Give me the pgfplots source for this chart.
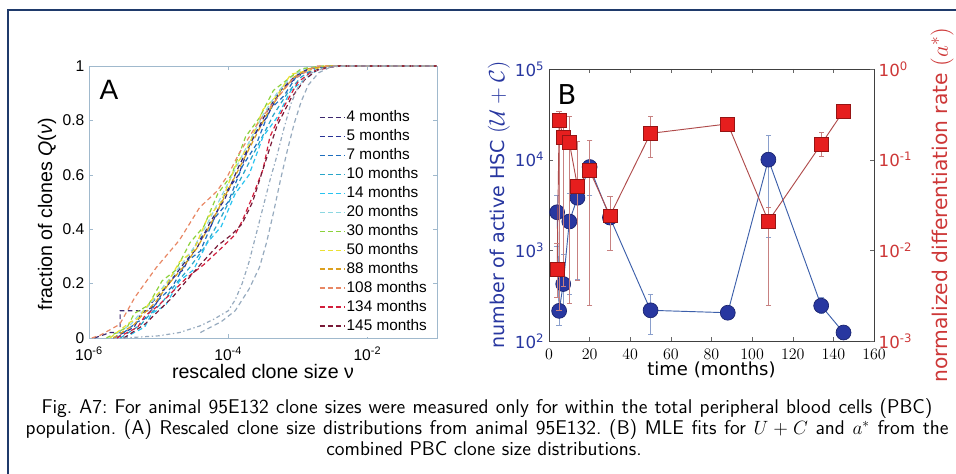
\documentclass[border=0pt]{standalone}
\usepackage{pgfplots}
\pgfplotsset{compat=1.18}
\usepackage{fontspec}
\setmainfont{Liberation Sans}
\newfontfamily\dvs{DejaVu Sans}
\definecolor{frameblue}{RGB}{31,58,107}
\definecolor{aaxis}{RGB}{160,185,205}
\definecolor{monA}{RGB}{60,40,110}
\definecolor{monB}{RGB}{40,50,150}
\definecolor{monC}{RGB}{30,110,190}
\definecolor{monD}{RGB}{40,165,200}
\definecolor{monE}{RGB}{40,195,240}
\definecolor{monF}{RGB}{140,215,225}
\definecolor{monG}{RGB}{140,210,60}
\definecolor{monH}{RGB}{235,225,50}
\definecolor{monI}{RGB}{220,160,30}
\definecolor{monJ}{RGB}{232,135,100}
\definecolor{monK}{RGB}{210,30,60}
\definecolor{monL}{RGB}{120,25,55}
\definecolor{cgray}{RGB}{150,170,190}
\definecolor{hscblue}{RGB}{40,55,160}
\definecolor{hscedge}{RGB}{25,35,110}
\definecolor{lineblue}{RGB}{60,95,170}
\definecolor{ared}{RGB}{230,30,30}
\definecolor{aredge}{RGB}{150,20,20}
\definecolor{linered}{RGB}{175,75,75}
\definecolor{labred}{RGB}{205,55,55}
\begin{document}
\frenchspacing
\begin{tikzpicture}
\useasboundingbox (0pt,0pt) rectangle (717pt,-355.5pt);
\draw[frameblue, line width=1.5pt] (6pt,-356pt) -- (6pt,-7.5pt) -- (718pt,-7.5pt);
% ---------------- Panel A ----------------
\begin{axis}[at={(66.75pt,-253.5pt)}, anchor=south west, scale only axis,
  width=261pt, height=204pt,
  xmode=log, log basis x=10, xmin=1e-6, xmax=1e-1, ymin=0, ymax=1,
  xtick={1e-6,1e-4,1e-2},
  xticklabels={10\textsuperscript{-6},10\textsuperscript{-4},10\textsuperscript{-2}},
  xminorticks=false,
  ytick={0,0.2,0.4,0.6,0.8,1}, yticklabels={0,0.2,0.4,0.6,0.8,1},
  axis line style={aaxis}, tick style={aaxis}, tick align=inside,
  major tick length=3pt,
  ticklabel style={font=\fontsize{11.7}{13}\selectfont, black},
  xticklabel style={yshift=-3pt},
  xlabel={rescaled clone size ν}, ylabel={fraction of clones \textit{Q}(\textit{ν})},
  label style={font=\fontsize{14.7}{16}\selectfont},
  xlabel style={yshift=4pt},
  ylabel style={at={(ticklabel cs:0.455)}, anchor=near ticklabel, yshift=-2pt},
  legend style={at={(rel axis cs:0.985,0.85)}, anchor=north east, draw=none, fill=white,
    font=\fontsize{11.5}{12}\selectfont, row sep=2.2pt,
    nodes={inner sep=0.5pt, text height=8.5pt, text depth=2.5pt}},
  legend cell align=left,
  legend image code/.code={\draw[#1, line width=1.1pt] (0pt,0pt) -- (19pt,0pt);},
  every axis plot/.append style={dash pattern=on 3.5pt off 2.5pt, line width=0.9pt}
]
\addplot[color=monA] coordinates {(1.2e-6,0) (2.0e-6,0.02) (2.8e-6,0.02) (2.8e-6,0.1) (8e-6,0.1) (8e-6,0.13) (1.413e-5,0.2) (2.239e-5,0.27) (3.548e-5,0.33) (5.623e-5,0.43) (8.913e-5,0.51) (1.413e-4,0.63) (2.239e-4,0.73) (3.548e-4,0.83) (5.623e-4,0.91) (8.913e-4,0.96) (1.413e-3,0.99) (2.818e-3,1) (1e-1,1)};
\addlegendentry{4 months}
\addplot[color=monB] coordinates {(2.239e-6,0) (4.467e-6,0.04) (5.623e-6,0.09) (8.913e-6,0.12) (1.413e-5,0.21) (2.239e-5,0.25) (3.548e-5,0.35) (5.623e-5,0.41) (8.913e-5,0.53) (1.413e-4,0.60) (2.239e-4,0.74) (3.548e-4,0.81) (5.623e-4,0.91) (8.913e-4,0.95) (1.413e-3,0.99) (2.818e-3,1) (1e-1,1)};
\addlegendentry{5 months}
\addplot[color=monC] coordinates {(2.512e-6,0) (5.012e-6,0.06) (6.310e-6,0.07) (1e-5,0.14) (1.585e-5,0.19) (2.512e-5,0.28) (3.981e-5,0.32) (6.310e-5,0.44) (1e-4,0.50) (1.585e-4,0.63) (2.512e-4,0.71) (3.981e-4,0.84) (6.310e-4,0.89) (1e-3,0.97) (1.585e-3,0.98) (3.162e-3,1) (1e-1,1)};
\addlegendentry{7 months}
\addplot[color=monD] coordinates {(2.818e-6,0) (5.623e-6,0.05) (7.079e-6,0.08) (1.122e-5,0.13) (1.778e-5,0.2) (2.818e-5,0.26) (4.467e-5,0.33) (7.079e-5,0.42) (1.122e-4,0.52) (1.778e-4,0.62) (2.818e-4,0.72) (4.467e-4,0.82) (7.079e-4,0.9) (1.122e-3,0.96) (1.778e-3,0.99) (3.548e-3,1) (1e-1,1)};
\addlegendentry{10 months}
\addplot[color=monE] coordinates {(3.162e-6,0) (6.310e-6,0.04) (7.943e-6,0.09) (1.259e-5,0.12) (1.995e-5,0.21) (3.162e-5,0.25) (5.012e-5,0.35) (7.943e-5,0.41) (1.259e-4,0.53) (1.995e-4,0.60) (3.162e-4,0.74) (5.012e-4,0.81) (7.943e-4,0.91) (1.259e-3,0.95) (1.995e-3,0.99) (3.981e-3,1) (1e-1,1)};
\addlegendentry{14 months}
\addplot[color=monF] coordinates {(1.995e-6,0) (3.981e-6,0.05) (5.012e-6,0.08) (7.943e-6,0.13) (1.259e-5,0.2) (1.995e-5,0.26) (3.162e-5,0.33) (5.012e-5,0.42) (7.943e-5,0.52) (1.259e-4,0.62) (1.995e-4,0.72) (3.162e-4,0.82) (5.012e-4,0.9) (7.943e-4,0.96) (1.259e-3,0.99) (2.512e-3,1) (1e-1,1)};
\addlegendentry{20 months}
\addplot[color=monG] coordinates {(1.778e-6,0) (3.548e-6,0.04) (4.467e-6,0.09) (7.079e-6,0.12) (1.122e-5,0.21) (1.778e-5,0.25) (2.818e-5,0.35) (4.467e-5,0.41) (7.079e-5,0.53) (1.122e-4,0.60) (1.778e-4,0.74) (2.818e-4,0.81) (4.467e-4,0.91) (7.079e-4,0.95) (1.122e-3,0.99) (2.239e-3,1) (1e-1,1)};
\addlegendentry{30 months}
\addplot[color=monH] coordinates {(1.995e-6,0) (3.981e-6,0.06) (5.012e-6,0.07) (7.943e-6,0.14) (1.259e-5,0.19) (1.995e-5,0.28) (3.162e-5,0.32) (5.012e-5,0.44) (7.943e-5,0.50) (1.259e-4,0.63) (1.995e-4,0.71) (3.162e-4,0.84) (5.012e-4,0.89) (7.943e-4,0.97) (1.259e-3,0.98) (2.512e-3,1) (1e-1,1)};
\addlegendentry{50 months}
\addplot[color=monI] coordinates {(2.239e-6,0) (4.467e-6,0.05) (5.623e-6,0.08) (8.913e-6,0.13) (1.413e-5,0.2) (2.239e-5,0.26) (3.548e-5,0.33) (5.623e-5,0.42) (8.913e-5,0.52) (1.413e-4,0.62) (2.239e-4,0.72) (3.548e-4,0.82) (5.623e-4,0.9) (8.913e-4,0.96) (1.413e-3,0.99) (2.818e-3,1) (1e-1,1)};
\addlegendentry{88 months}
\addplot[color=monJ] coordinates {(1.096e-6,0) (1.445e-6,0.01) (2.754e-6,0.05) (4.571e-6,0.15) (9.333e-6,0.26) (1.995e-5,0.36) (3.890e-5,0.48) (6.918e-5,0.54) (1.0e-4,0.6) (1.445e-4,0.68) (2.818e-4,0.8) (5.012e-4,0.88) (8.318e-4,0.95) (1.862e-3,1) (1e-1,1)};
\addlegendentry{108 months}
\addplot[color=monK] coordinates {(2.512e-6,0) (5.012e-6,0.04) (6.310e-6,0.08) (1e-5,0.12) (1.585e-5,0.17) (2.512e-5,0.22) (4.467e-5,0.27) (7.943e-5,0.33) (1.259e-4,0.38) (1.585e-4,0.43) (2.239e-4,0.52) (3.162e-4,0.62) (3.981e-4,0.74) (6.310e-4,0.85) (1e-3,0.94) (1.585e-3,0.98) (3.548e-3,1) (1e-1,1)};
\addlegendentry{134 months}
\addplot[color=monL] coordinates {(3.162e-6,0) (6.310e-6,0.05) (1e-5,0.1) (1.585e-5,0.15) (2.512e-5,0.21) (3.981e-5,0.27) (7.079e-5,0.34) (1.122e-4,0.38) (1.585e-4,0.42) (2.239e-4,0.5) (2.818e-4,0.58) (3.548e-4,0.66) (5.012e-4,0.78) (7.943e-4,0.88) (1.259e-3,0.95) (1.995e-3,0.99) (3.981e-3,1) (1e-1,1)};
\addlegendentry{145 months}
\addplot[color=cgray, dash pattern=on 3pt off 2pt on 1pt off 2pt, forget plot] coordinates {(3.162e-6,0) (1e-5,0.008) (1.995e-5,0.02) (3.981e-5,0.045) (6.310e-5,0.07) (1e-4,0.1) (1.259e-4,0.14) (1.585e-4,0.2) (1.995e-4,0.28) (2.512e-4,0.38) (3.162e-4,0.48) (3.981e-4,0.58) (5.012e-4,0.67) (6.310e-4,0.77) (7.943e-4,0.86) (1e-3,0.92) (1.413e-3,0.97) (2.512e-3,0.995) (5.012e-3,1) (1e-1,1)};
\addplot[color=cgray, forget plot] coordinates {(3.981e-5,0.02) (7.943e-5,0.06) (1.259e-4,0.1) (1.995e-4,0.18) (2.818e-4,0.26) (3.548e-4,0.35) (4.467e-4,0.46) (5.623e-4,0.58) (7.079e-4,0.69) (8.913e-4,0.79) (1.122e-3,0.87) (1.413e-3,0.93) (1.995e-3,0.975) (3.162e-3,1) (1e-1,1)};
\end{axis}
\node[font=\fontsize{21}{24}\selectfont] at (81.75pt,-67.5pt) {A};
% ---------------- Panel B (left axis) ----------------
\begin{axis}[at={(411.75pt,-255.75pt)}, anchor=south west, scale only axis,
  width=243.75pt, height=204pt,
  xmin=0, xmax=160, ymode=log, log basis y=10, ymin=1e2, ymax=1e5,
  xtick={0,20,...,160},
  ytick={1e2,1e3,1e4,1e5},
  yticklabels={10\textsuperscript{2},10\textsuperscript{3},10\textsuperscript{4},10\textsuperscript{5}},
  ytick pos=left, tick align=inside, major tick length=3pt, minor tick length=1.5pt,
  axis line style={black!75}, tick style={black!60},
  ticklabel style={font=\dvs\fontsize{12.5}{14}\selectfont},
  xticklabel style={yshift=-2.5pt},
  yticklabel style={hscblue},
  xlabel={time (months)}, ylabel={number of active HSC \scalebox{1.15}{$(\mathcal{U}+\mathcal{C})$}},
  label style={font=\dvs\fontsize{13.5}{15}\selectfont},
  xlabel style={yshift=5pt}, ylabel style={hscblue, font=\dvs\fontsize{14.3}{15}\selectfont, yshift=-3pt}
]
\addplot[lineblue!60, line width=0.4pt, mark=-, mark size=2pt, forget plot] coordinates {(4,1100) (4,4000)};
\addplot[lineblue!60, line width=0.4pt, mark=-, mark size=2pt, forget plot] coordinates {(5,150) (5,420)};
\addplot[lineblue!60, line width=0.4pt, mark=-, mark size=2pt, forget plot] coordinates {(7,230) (7,900)};
\addplot[lineblue!60, line width=0.4pt, mark=-, mark size=2pt, forget plot] coordinates {(10,325) (10,4300)};
\addplot[lineblue!60, line width=0.4pt, mark=-, mark size=2pt, forget plot] coordinates {(14,480) (14,6000)};
\addplot[lineblue!60, line width=0.4pt, mark=-, mark size=2pt, forget plot] coordinates {(20,4000) (20,16500)};
\addplot[lineblue!60, line width=0.4pt, mark=-, mark size=2pt, forget plot] coordinates {(30,1000) (30,3900)};
\addplot[lineblue!60, line width=0.4pt, mark=-, mark size=2pt, forget plot] coordinates {(50,118) (50,325)};
\addplot[lineblue!60, line width=0.4pt, mark=-, mark size=2pt, forget plot] coordinates {(108,1380) (108,18700)};
\addplot[lineblue!60, line width=0.4pt, mark=-, mark size=2pt, forget plot] coordinates {(134,200) (134,300)};
\addplot[lineblue, line width=0.7pt, mark=*, mark size=5.6pt, mark options={fill=hscblue, draw=hscedge, line width=0.5pt}]
  coordinates {(4,2630) (5,215) (7,425) (10,2080) (14,3800) (20,8300) (30,2300) (50,218) (88,205) (108,10000) (134,245) (145,124)};
\end{axis}
% ---------------- Panel B (right axis) ----------------
\begin{axis}[at={(411.75pt,-255.75pt)}, anchor=south west, scale only axis,
  width=243.75pt, height=204pt,
  xmin=0, xmax=160, ymode=log, log basis y=10, ymin=1e-3, ymax=1,
  axis x line=none, axis y line*=right,
  ytick={1e-3,1e-2,1e-1,1},
  yticklabels={10\textsuperscript{-3},10\textsuperscript{-2},10\textsuperscript{-1},10\textsuperscript{0}},
  tick align=inside, major tick length=3pt, minor tick length=1.5pt,
  axis line style={black!75}, tick style={black!60},
  ticklabel style={font=\dvs\fontsize{12.5}{14}\selectfont, labred},
  ylabel={normalized differentiation rate \scalebox{1.2}{$(a^*)$}},
  label style={font=\dvs\fontsize{15.2}{16}\selectfont, labred},
  ylabel style={yshift=-7pt}
]
\addplot[linered!70, line width=0.4pt, mark=-, mark size=2pt, forget plot] coordinates {(4,0.003) (4,0.012)};
\addplot[linered!70, line width=0.4pt, mark=-, mark size=2pt, forget plot] coordinates {(5,0.0022) (5,0.34)};
\addplot[linered!70, line width=0.4pt, mark=-, mark size=2pt, forget plot] coordinates {(7,0.004) (7,0.3)};
\addplot[linered!70, line width=0.4pt, mark=-, mark size=2pt, forget plot] coordinates {(10,0.0026) (10,0.3)};
\addplot[linered!70, line width=0.4pt, mark=-, mark size=2pt, forget plot] coordinates {(14,0.0047) (14,0.16)};
\addplot[linered!70, line width=0.4pt, mark=-, mark size=2pt, forget plot] coordinates {(20,0.0025) (20,0.165)};
\addplot[linered!70, line width=0.4pt, mark=-, mark size=2pt, forget plot] coordinates {(30,0.010) (30,0.039)};
\addplot[linered!70, line width=0.4pt, mark=-, mark size=2pt, forget plot] coordinates {(50,0.105) (50,0.30)};
\addplot[linered!70, line width=0.4pt, mark=-, mark size=2pt, forget plot] coordinates {(108,0.0025) (108,0.03)};
\addplot[linered!70, line width=0.4pt, mark=-, mark size=2pt, forget plot] coordinates {(134,0.108) (134,0.2)};
\addplot[linered, line width=0.7pt, mark=square*, mark size=5.2pt, mark options={fill=ared, draw=aredge, line width=0.5pt}]
  coordinates {(4,0.0062) (5,0.274) (7,0.176) (10,0.155) (14,0.051) (20,0.076) (30,0.024) (50,0.195) (88,0.248) (108,0.021) (134,0.148) (145,0.344)};
\end{axis}
\node[font=\dvs\fontsize{20.5}{24}\selectfont] at (425.25pt,-71.25pt) {B};
% ---------------- Caption ----------------
\begin{scope}[every node/.style={font=\sffamily\fontsize{14.9}{15.75}\selectfont, inner sep=0pt, anchor=base}]
\node at (365.25pt,-309.75pt) {\makebox[668.25pt][s]{Fig. A7: For animal 95E132 clone sizes were measured only for within the total peripheral blood cells (PBC)}};
\node at (365.25pt,-325.5pt) {\makebox[692.25pt][s]{population. (A) Rescaled clone size distributions from animal 95E132. (B) MLE fits for $U+C$ and $a^*$ from the}};
\node at (363pt,-341.25pt) {combined PBC clone size distributions.};
\end{scope}
\end{tikzpicture}
\end{document}
